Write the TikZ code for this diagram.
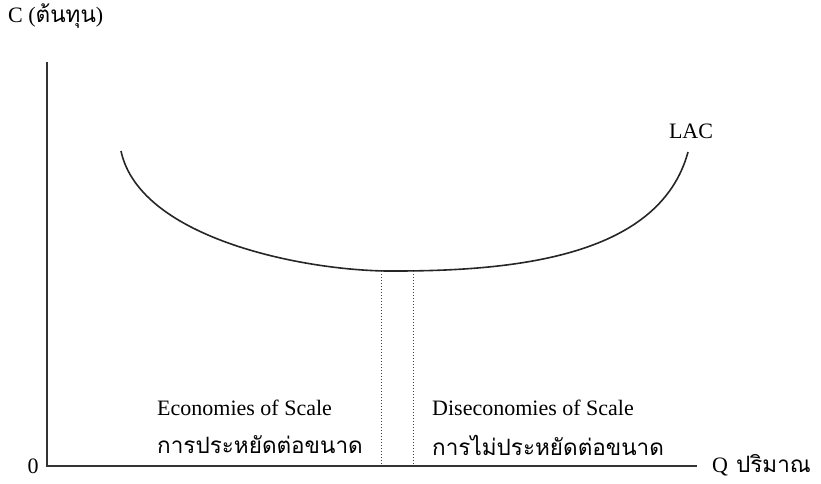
\documentclass[tikz,border=0pt]{standalone}
\usepackage{fontspec}
\setmainfont{Liberation Serif}
\newfontfamily\thaifont[Script=Thai]{Loma}
\begin{document}
\begin{tikzpicture}[x=1pt,y=-1pt,
  lbl/.style={inner sep=0pt,font=\fontsize{22}{26}\selectfont},
  thlbl/.style={inner sep=0pt,font=\fontsize{22.5}{26}\thaifont},
  axis/.style={line width=1.6pt,draw=black!80},
  curve/.style={line width=1.6pt,draw=black!85},
  guide/.style={line width=1pt,dotted,draw=black!75}]
\useasboundingbox (0,0) rectangle (821,483);
% axes
\coordinate (Ytop) at (47,62);
\coordinate (O) at (47,466);
\coordinate (Xend) at (697,466);
\draw[axis] (Ytop) -- (O) -- (Xend);
% LAC curve
\coordinate (Lend) at (121,151);
\coordinate (Min) at (395,271);
\coordinate (Rend) at (688,152);
\draw[curve] (Lend) .. controls (140,240) and (310,272) .. (Min)
  .. controls (520,271) and (660,255) .. (Rend);
% dotted guides
\coordinate (g1t) at (381,271);
\coordinate (g1b) at (381,466);
\coordinate (g2t) at (413,271);
\coordinate (g2b) at (413,466);
\draw[guide] (g1t) -- (g1b);
\draw[guide] (g2t) -- (g2b);
% labels
\node[lbl,anchor=west] (clab) at (8,16) {C ({\fontsize{22.5}{26}\thaifont ต้นทุน})};
\node[lbl] (zero) at (33,466) {0};
\node[lbl,anchor=west] (qlab) at (712,465) {Q\hspace{8pt}{\fontsize{22.5}{26}\thaifont ปริมาณ}};
\node[lbl] (lac) at (691,131) {LAC};
\node[lbl,anchor=west] (eos) at (157,408) {Economies of Scale};
\node[thlbl,anchor=west] (eosth) at (157,445) {การประหยัดต่อขนาด};
\node[lbl,anchor=west] (dos) at (432,408) {Diseconomies of Scale};
\node[thlbl,anchor=west] (dosth) at (432,445) {การไม่ประหยัดต่อขนาด};
\end{tikzpicture}
\end{document}
